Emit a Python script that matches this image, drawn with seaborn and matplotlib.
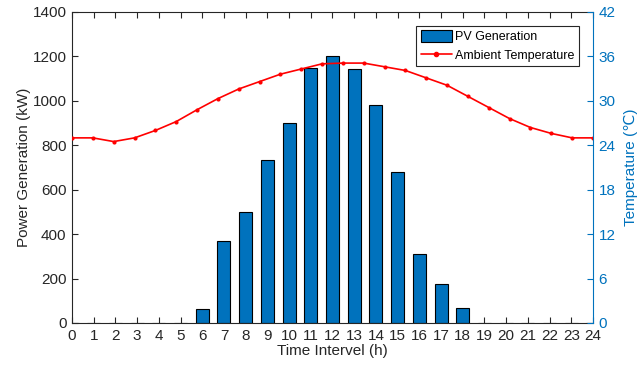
import numpy as np
import pandas as pd
import matplotlib
matplotlib.use("Agg")
import matplotlib.pyplot as plt
import seaborn as sns
from matplotlib.patches import Patch
from matplotlib.lines import Line2D

hours = list(range(25))
pv_power = [0, 2, 2, 2, 2, 2, 65, 370, 500, 735, 900, 1150, 1200, 1145, 980,
            678, 312, 176, 66, 2, 2, 2, 2, 2, 0]
temperature = [25.0, 25.0, 24.5, 25.0, 26.0, 27.2, 28.8, 30.3, 31.6, 32.6, 33.6,
               34.3, 35.0, 35.1, 35.1, 34.6, 34.1, 33.1, 32.1, 30.6, 29.1, 27.6,
               26.4, 25.6, 25.0, 25.0]
x_ticks = list(range(25))
y_ticks = [0, 200, 400, 600, 800, 1000, 1200, 1400]
t_ticks = [0, 6, 12, 18, 24, 30, 36, 42]

blue = "#0072BD"
txt = "#262626"

sns.set_style("white")
plt.rcParams["font.family"] = ["Liberation Sans", "DejaVu Sans"]

fig = plt.figure(figsize=(6.44, 3.69), dpi=100)
ax = fig.add_axes([0.1118, 0.1247, 0.8090, 0.8428])

df_pv = pd.DataFrame({"hour": hours, "power": pv_power})
sns.barplot(data=df_pv, x="hour", y="power", native_scale=True, width=0.6,
            color=blue, saturation=1, edgecolor="black", linewidth=0.8, ax=ax)

ax.set_xlim(0, 24)
ax.set_ylim(0, 1400)
ax.set_xticks(x_ticks)
ax.set_xticklabels([str(h) for h in x_ticks])
ax.set_yticks(y_ticks)
ax.set_xlabel("Time Intervel (h)", fontsize=11, color=txt, labelpad=1)
ax.set_ylabel("Power Generation (kW)", fontsize=11, color=txt, labelpad=1)
ax.tick_params(axis="both", direction="in", length=4, labelsize=11,
               colors=txt, top=True, left=True, bottom=True, right=False, pad=4)
for s in ["left", "top", "bottom"]:
    ax.spines[s].set_color(txt)
    ax.spines[s].set_linewidth(0.8)
ax.spines["right"].set_visible(False)

ax2 = ax.twinx()
t_x = np.linspace(0, 24, len(temperature))
df_t = pd.DataFrame({"x": t_x, "temp": temperature})
sns.lineplot(data=df_t, x="x", y="temp", color="red", marker="o", markersize=3,
             markeredgewidth=0, linewidth=1.2, ax=ax2)
ax2.set_ylim(0, 42)
ax2.set_yticks(t_ticks)
ax2.set_xlim(0, 24)
ax2.set_xlabel("")
ax2.set_ylabel("Temperature (℃)", fontsize=11, color=blue, labelpad=6)
ax2.tick_params(axis="y", direction="in", length=4, labelsize=11, colors=blue, pad=4)
ax2.spines["right"].set_color(blue)
ax2.spines["right"].set_linewidth(0.8)
for s in ["left", "top", "bottom"]:
    ax2.spines[s].set_visible(False)

handles = [Patch(facecolor=blue, edgecolor="black", linewidth=0.8),
           Line2D([0], [0], color="red", marker="o", markersize=3, linewidth=1.2)]
leg = ax2.legend(handles, ["PV Generation", "Ambient Temperature"],
                 loc="upper right", bbox_to_anchor=(0.973, 0.955), fontsize=9,
                 frameon=True, fancybox=False, framealpha=1, edgecolor=txt,
                 borderpad=0.35, handlelength=2.5, handleheight=1.0,
                 handletextpad=0.25, labelspacing=0.45, borderaxespad=0)
leg.get_frame().set_linewidth(0.8)
for t in leg.get_texts():
    t.set_color("black")

fig.savefig("out.png", dpi=100)
